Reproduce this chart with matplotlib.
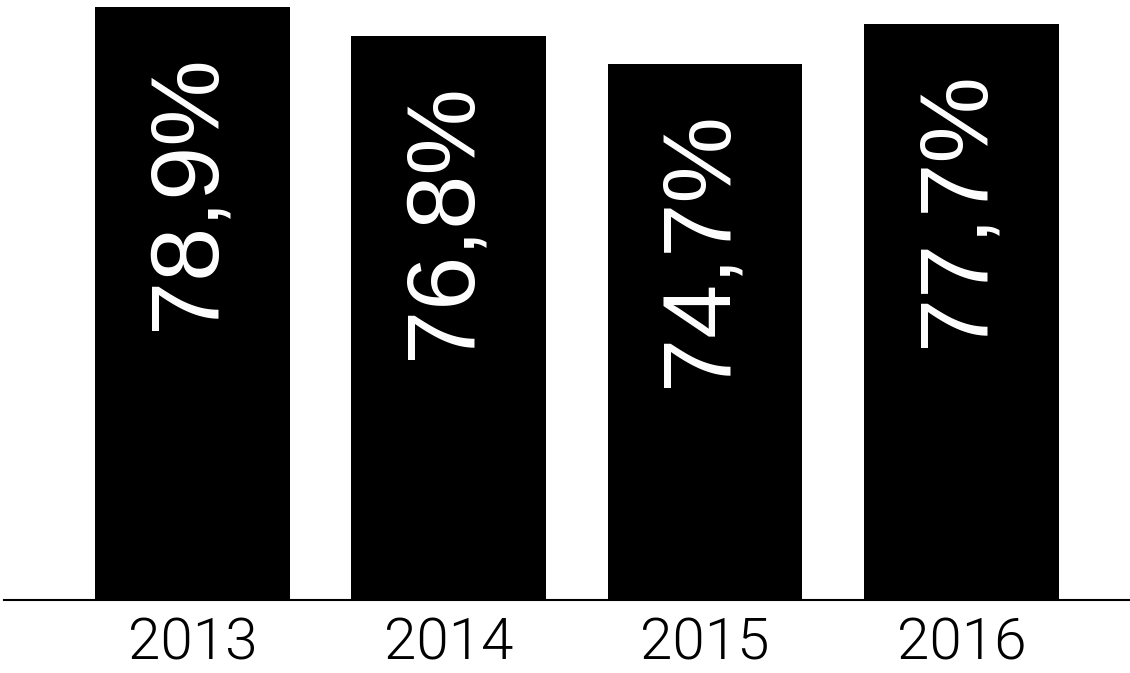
import numpy as np
import matplotlib.pyplot as plt

years = ['2013', '2014', '2015', '2016']
values = [78.9, 76.8, 74.7, 77.7]
labels = ['78,9%', '76,8%', '74,7%', '77,7%']

fig = plt.figure(figsize=(11.3, 6.73), dpi=100)
ax = fig.add_axes([4 / 1130, 73 / 673, 1126 / 1130, 600 / 673])

x = np.arange(len(years))
ax.bar(x, values, width=0.76, color='black', zorder=2)

for xi, v, lab in zip(x, values, labels):
    ax.annotate(lab, (xi, v), xytext=(-3, -34), textcoords='offset points',
                rotation=90, ha='center', va='top', color='white',
                fontsize=70, family='Liberation Sans')

ax.set_xlim(-0.735, 3.658)
ax.set_ylim(34.9, 79.45)
ax.set_xticks(x)
ax.set_xticklabels(years, fontsize=42, family='Roboto', fontweight=300)
ax.tick_params(axis='x', length=0, pad=12)
ax.set_yticks([])
for s in ['top', 'left', 'right']:
    ax.spines[s].set_visible(False)
ax.spines['bottom'].set_linewidth(1.5)
ax.spines['bottom'].set_zorder(3)

plt.savefig('out.png', dpi=100)
